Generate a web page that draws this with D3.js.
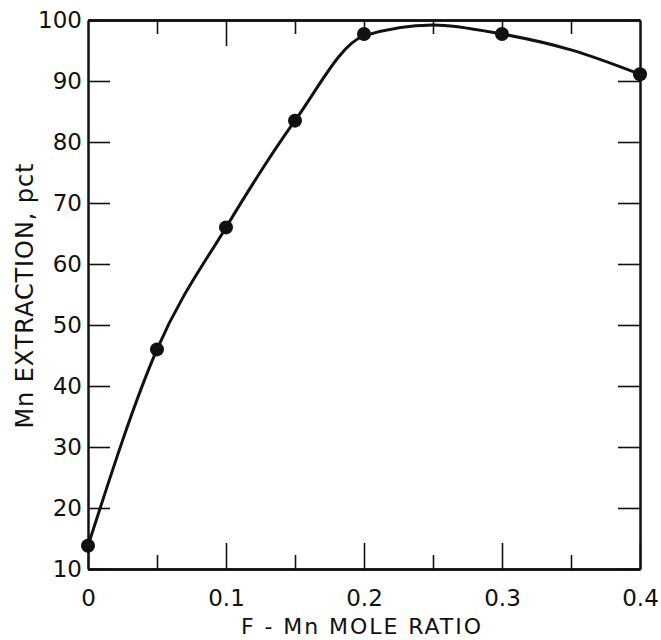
<!DOCTYPE html>
<html>
<head>
<meta charset="utf-8">
<script src="https://cdn.jsdelivr.net/npm/d3@7"></script>
<style>
  body { margin: 0; background: #fff; }
  svg { display: block; }
  text { font-family: "DejaVu Sans", sans-serif; fill: #111; }
</style>
</head>
<body>
<script>
// measured points
const ratio = [0, 0.05, 0.1, 0.15, 0.2, 0.3, 0.4];
const extraction = [13.8, 46, 66, 83.5, 97.7, 97.7, 91.1];

// hand drawn smooth curve through the points
const curveRatio = [0, 0.05, 0.1, 0.15, 0.2, 0.25, 0.3, 0.35, 0.4];
const curveExtraction = [13.8, 46, 66, 83.5, 97.4, 99.2, 97.7, 95.1, 91.1];

const xMajor = [0, 0.1, 0.2, 0.3, 0.4];
const xMinor = [0.05, 0.15, 0.25, 0.35];
const yTicks = [10, 20, 30, 40, 50, 60, 70, 80, 90, 100];

const width = 661, height = 640;
const x = d3.scaleLinear().domain([0, 0.4]).range([88, 640]);
const y = d3.scaleLinear().domain([10, 100]).range([569, 20]);

const svg = d3.select("body").append("svg")
    .attr("width", width)
    .attr("height", height);

function style(g, labels) {
    g.select(".domain").attr("stroke", "#111").attr("stroke-width", 2.5);
    g.selectAll(".tick line").attr("stroke", "#111").attr("stroke-width", 1.6);
    g.selectAll(".tick text").style("font-size", labels ? "23px" : "0px").attr("fill", "#111");
}

// bottom: major with labels, minor without
svg.append("g")
    .attr("transform", `translate(0,${y(10)})`)
    .call(d3.axisBottom(x).tickValues(xMajor).tickSize(-26).tickSizeOuter(0).tickPadding(21)
        .tickFormat(d => d === 0 ? "0" : d.toFixed(1)))
    .call(g => style(g, true));
svg.append("g")
    .attr("transform", `translate(0,${y(10)})`)
    .call(d3.axisBottom(x).tickValues(xMinor).tickSize(-14).tickSizeOuter(0).tickFormat(""))
    .call(g => style(g, false));

// top: one long tick at 0.1, short ones elsewhere
svg.append("g")
    .attr("transform", `translate(0,${y(100)})`)
    .call(d3.axisTop(x).tickValues([0.1]).tickSize(-26).tickSizeOuter(0).tickFormat(""))
    .call(g => style(g, false));
svg.append("g")
    .attr("transform", `translate(0,${y(100)})`)
    .call(d3.axisTop(x).tickValues([0.05, 0.15, 0.2, 0.25, 0.3, 0.35]).tickSize(-14).tickSizeOuter(0).tickFormat(""))
    .call(g => style(g, false));

// left with labels, right plain
svg.append("g")
    .attr("transform", `translate(${x(0)},0)`)
    .call(d3.axisLeft(y).tickValues(yTicks).tickSize(-22).tickSizeOuter(0).tickPadding(6))
    .call(g => style(g, true));
svg.append("g")
    .attr("transform", `translate(${x(0.4)},0)`)
    .call(d3.axisRight(y).tickValues(yTicks).tickSize(-22).tickSizeOuter(0).tickFormat(""))
    .call(g => style(g, false));

// curve
const line = d3.line()
    .x(d => x(d[0]))
    .y(d => y(d[1]))
    .curve(d3.curveMonotoneX);

svg.append("path")
    .datum(d3.zip(curveRatio, curveExtraction))
    .attr("fill", "none")
    .attr("stroke", "#111")
    .attr("stroke-width", 3)
    .attr("d", line);

svg.append("g")
    .selectAll("circle")
    .data(d3.zip(ratio, extraction))
    .join("circle")
    .attr("cx", d => x(d[0]))
    .attr("cy", d => y(d[1]))
    .attr("r", 7)
    .attr("fill", "#111");

// axis titles
svg.append("text")
    .attr("x", 361)
    .attr("y", 634)
    .attr("text-anchor", "middle")
    .style("font-size", "22px")
    .attr("textLength", 240)
    .text("F - Mn  MOLE RATIO");

svg.append("text")
    .attr("transform", "translate(33,296) rotate(-90)")
    .attr("text-anchor", "middle")
    .style("font-size", "24px")
    .attr("textLength", 265)
    .text("Mn EXTRACTION, pct");
</script>
</body>
</html>
